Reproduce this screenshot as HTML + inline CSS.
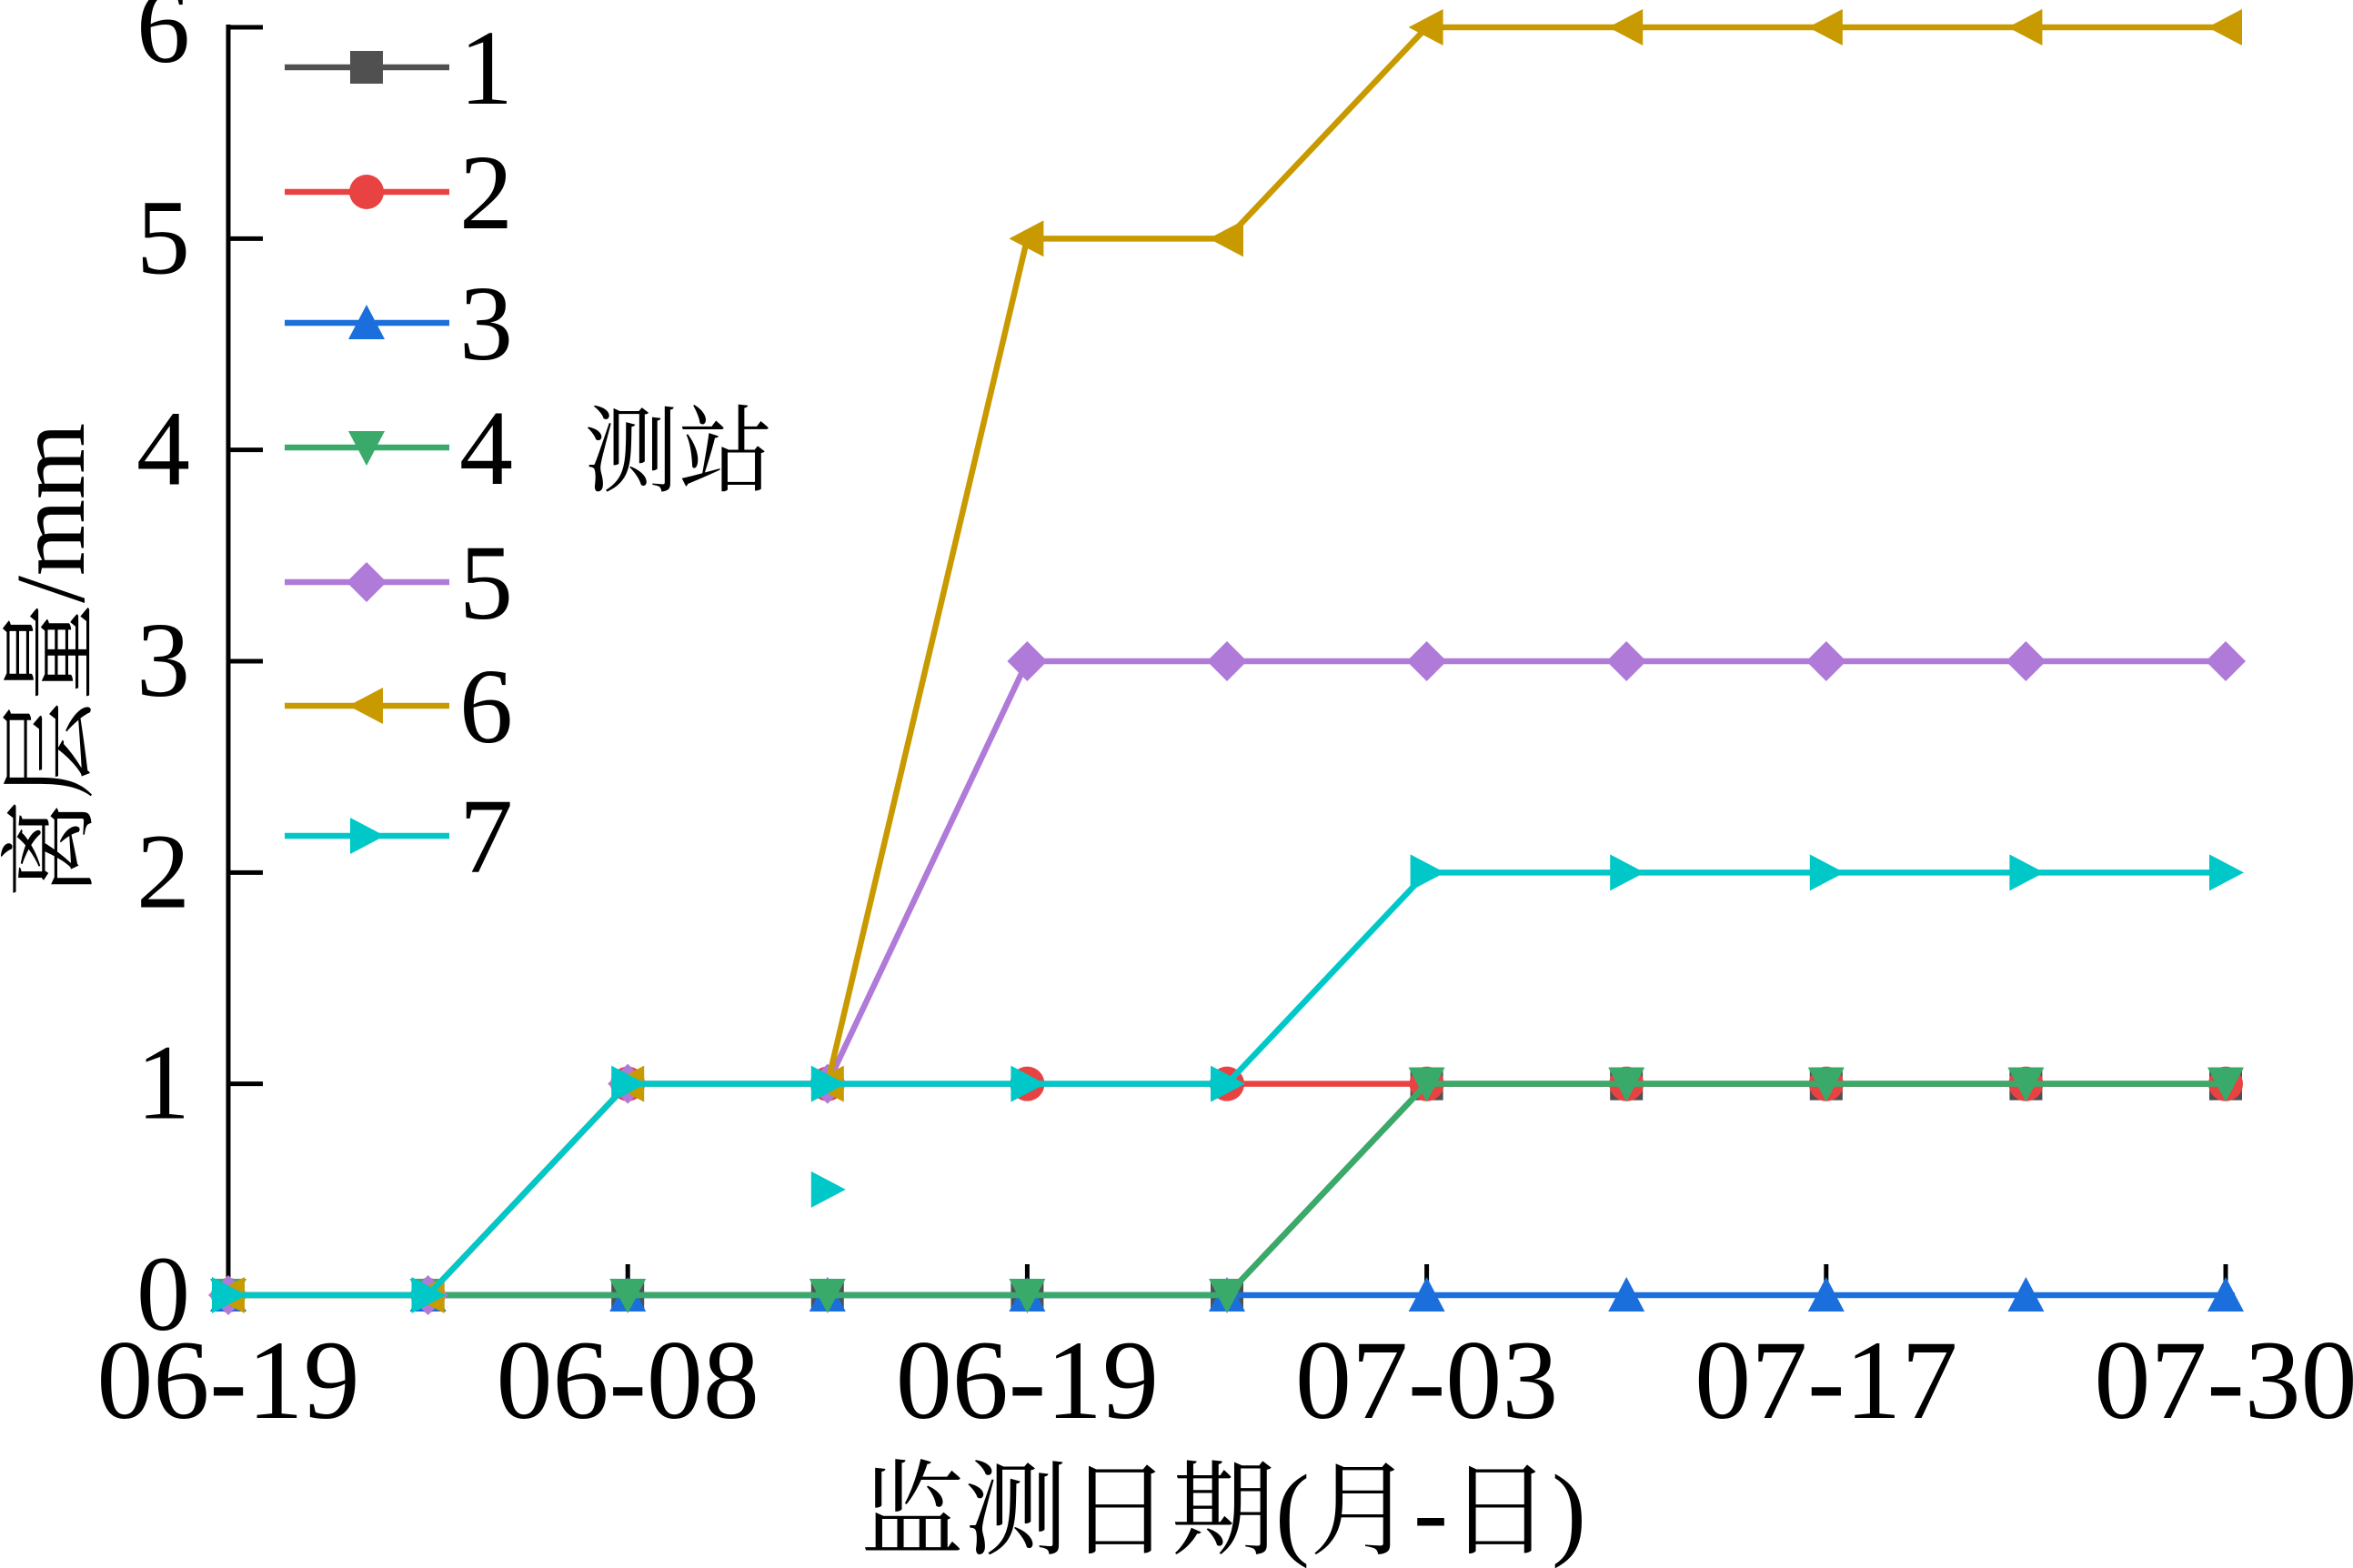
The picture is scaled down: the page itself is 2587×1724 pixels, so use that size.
<!DOCTYPE html>
<html><head><meta charset="utf-8"><style>
html,body{margin:0;padding:0;background:#fff;}
svg{display:block;font-family:"Liberation Serif","Noto Serif CJK SC",serif;}
</style></head><body>
<svg id="chart" width="2587" height="1724" viewBox="0 0 2587 1724" xmlns="http://www.w3.org/2000/svg">
<g id="axes"></g>
<g id="series"></g>
<g id="legend"></g>
<text x="1345" y="1700" font-size="114" text-anchor="middle">监测日期(月-日)</text>
<text transform="translate(92,726) rotate(-90)" font-size="108" text-anchor="middle">离层量/mm</text>
<text x="642" y="532" font-size="104">测站</text>
</svg>
<script>
const categories = ["06-19a","06-01","06-08","06-12","06-19","06-26","07-03","07-10","07-17","07-24","07-30"];
const xTickLabels = ["06-19","","06-08","","06-19","","07-03","","07-17","","07-30"];
const yTicks = [0,1,2,3,4,5,6];
const seriesNames = ["1","2","3","4","5","6","7"];
const s1 = [0,0,0,0,0,0,1,1,1,1,1];
const s2 = [0,0,1,1,1,1,1,1,1,1,1];
const s3 = [0,0,0,0,0,0,0,0,0,0,0];
const s4 = [0,0,0,0,0,0,1,1,1,1,1];
const s5 = [0,0,1,1,3,3,3,3,3,3,3];
const s6 = [0,0,1,1,5,5,6,6,6,6,6];
const s7 = [0,0,1,1,1,1,2,2,2,2,2];
const strayIndex = 3, strayValue = 0.5;

const NS="http://www.w3.org/2000/svg";
const X0=251, X1=2447, Y0=1424, Y6=30;
const xs = i => X0 + (X1-X0)*i/(categories.length-1);
const ys = v => Y0 - (Y0-Y6)*v/6;
function mk(tag, attrs, parent){const e=document.createElementNS(NS,tag);for(const k in attrs)e.setAttribute(k,attrs[k]);parent.appendChild(e);return e;}
const axes=document.getElementById('axes');
let a=mk('line',{x1:X0,y1:Y6-3,x2:X0,y2:Y0+3,stroke:'#000','stroke-width':5},axes);


a=mk('line',{x1:X0-2,y1:Y0,x2:X1+10,y2:Y0,stroke:'#000','stroke-width':5},axes);


yTicks.forEach(v=>{
  const t=mk('line',{x1:X0,y1:ys(v),x2:X0+38,y2:ys(v),stroke:'#000','stroke-width':5},axes);
  
  
  const l=mk('text',{x:X0-42,y:ys(v)+38,'font-size':118,'text-anchor':'end'},axes);
  l.textContent=v;
  
  
});
categories.forEach((c,i)=>{
  if(i%2!==0) return;
  const t=mk('line',{x1:xs(i),y1:Y0,x2:xs(i),y2:Y0-34,stroke:'#000','stroke-width':5},axes);
  
  
  const l=mk('text',{x:xs(i),y:Y0+135,'font-size':124,'text-anchor':'middle'},axes);
  l.textContent=xTickLabels[i];
  
  
});
const colors=["#505050","#e84242","#1b6fdc","#3aaa6a","#b07ad8","#c89a00","#00c8c8"];
const shapes=["square","circle","up","down","diamond","left","right"];
const data=[s1,s2,s3,s4,s5,s6,s7];
function marker(shape,x,y,c,parent){
  const r=18;let e;
  if(shape==="square") e=mk('rect',{x:x-r,y:y-r,width:2*r,height:2*r,fill:c},parent);
  else if(shape==="circle") e=mk('circle',{cx:x,cy:y,r:r+1,fill:c},parent);
  else {
    let p;
    if(shape==="up") p=[[x,y-r-2],[x+r+2,y+r],[x-r-2,y+r]];
    if(shape==="down") p=[[x,y+r+2],[x+r+2,y-r],[x-r-2,y-r]];
    if(shape==="left") p=[[x-r-2,y],[x+r,y-r-2],[x+r,y+r+2]];
    if(shape==="right") p=[[x+r+2,y],[x-r,y-r-2],[x-r,y+r+2]];
    if(shape==="diamond") p=[[x,y-r-4],[x+r+4,y],[x,y+r+4],[x-r-4,y]];
    e=mk('polygon',{points:p.map(q=>q.join(',')).join(' '),fill:c},parent);
  }
  return e;
}
const sg=document.getElementById('series');
data.forEach((arr,si)=>{
  const g=mk('g',{},sg);
  
  
  const pl=mk('polyline',{points:arr.map((v,i)=>xs(i)+','+ys(v)).join(' '),fill:'none',stroke:colors[si],'stroke-width':6.5},g);
  
  
  arr.forEach((v,i)=>{
    const m=marker(shapes[si],xs(i),ys(v),colors[si],g);
    
    
  });
});
const stray=marker("right",xs(strayIndex),ys(strayValue),colors[6],sg);


const lg=document.getElementById('legend');
const rowsY=[74,211,355,492,640,776,919];
seriesNames.forEach((n,i)=>{
  const g=mk('g',{},lg);
  
  
  mk('line',{x1:313,y1:rowsY[i],x2:494,y2:rowsY[i],stroke:colors[i],'stroke-width':6.5},g);
  marker(shapes[i],403,rowsY[i],colors[i],g);
  const t=mk('text',{x:505,y:rowsY[i]+40,'font-size':118},g);
  t.textContent=n;
});
</script>
</body></html>
